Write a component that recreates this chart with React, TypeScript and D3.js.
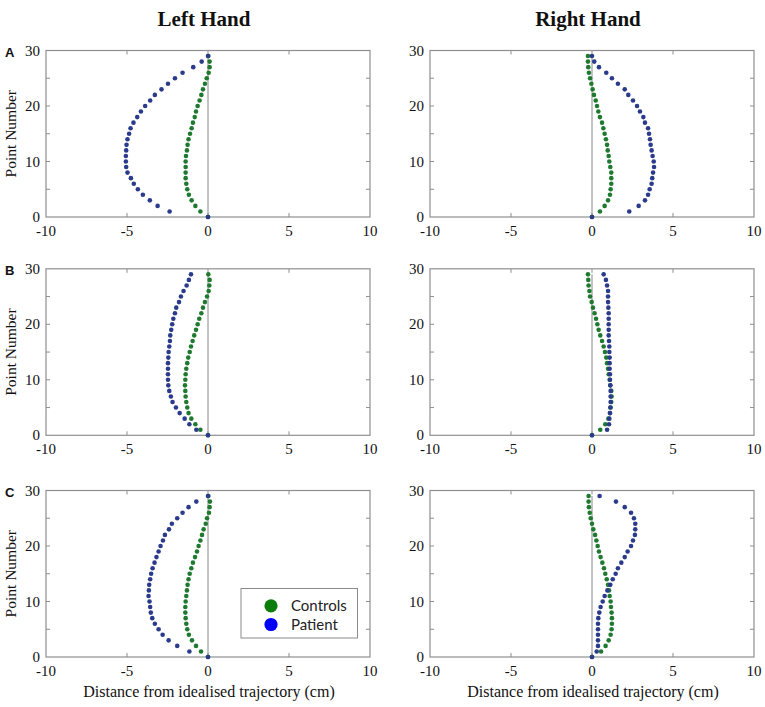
import React from "react";
import * as d3 from "d3";

// Point numbers 0..29 (index = point number)
const pointNumbers = d3.range(0, 30);
const xTicks = [-10, -5, 0, 5, 10];
const yTicks = [0, 10, 20, 30];
const yMinorTicks = [5, 10, 15, 20, 25];
const xInnerTicks = [-5, 0, 5];
const rowLabels = ["A", "B", "C"];
const columnTitles = ["Left Hand", "Right Hand"];
const seriesNames = ["Controls", "Patient"];

// Row A
const aLeftPatient = [0, -2.37, -3.11, -3.59, -4.02, -4.33, -4.58, -4.76, -4.97, -5.05, -5.07, -5.07, -5.05, -5.03, -4.97, -4.87, -4.78, -4.6, -4.37, -4.14, -3.88, -3.57, -3.28, -2.87, -2.47, -2.04, -1.57, -0.91, -0.39, 0];
const aLeftControls = [0, -0.47, -0.78, -1.01, -1.18, -1.28, -1.34, -1.38, -1.38, -1.38, -1.38, -1.36, -1.3, -1.26, -1.2, -1.11, -1.01, -0.93, -0.82, -0.74, -0.64, -0.52, -0.41, -0.31, -0.19, -0.08, 0.04, 0.1, 0.1, 0.02];
const aRightPatient = [0, 2.3, 2.88, 3.27, 3.46, 3.56, 3.68, 3.72, 3.77, 3.83, 3.81, 3.74, 3.68, 3.62, 3.58, 3.52, 3.46, 3.27, 3.17, 2.96, 2.78, 2.53, 2.24, 2.02, 1.6, 1.23, 0.88, 0.43, 0.14, 0];
const aRightControls = [0, 0.49, 0.78, 0.99, 1.11, 1.15, 1.19, 1.19, 1.19, 1.13, 1.07, 1.03, 0.97, 0.93, 0.86, 0.78, 0.7, 0.62, 0.49, 0.39, 0.31, 0.23, 0.12, 0.04, -0.04, -0.12, -0.19, -0.23, -0.25, -0.25];

// Row B
const bLeftPatient = [0, -0.72, -1.15, -1.44, -1.75, -1.98, -2.19, -2.29, -2.39, -2.45, -2.47, -2.47, -2.47, -2.47, -2.45, -2.43, -2.39, -2.35, -2.33, -2.27, -2.21, -2.14, -2.04, -1.96, -1.79, -1.67, -1.51, -1.32, -1.18, -1.05];
const bLeftControls = [0, -0.47, -0.78, -1.03, -1.2, -1.28, -1.34, -1.38, -1.4, -1.42, -1.4, -1.38, -1.34, -1.28, -1.22, -1.13, -1.05, -0.95, -0.85, -0.74, -0.64, -0.54, -0.41, -0.31, -0.19, -0.06, 0.04, 0.08, 0.1, 0.02];
const bRightPatient = [0, 0.93, 1.05, 1.07, 1.11, 1.13, 1.15, 1.15, 1.15, 1.13, 1.11, 1.11, 1.09, 1.09, 1.09, 1.07, 1.07, 1.05, 1.03, 1.03, 1.03, 1.03, 1.03, 1.01, 0.99, 0.99, 0.99, 0.93, 0.86, 0.72];
const bRightControls = [0, 0.51, 0.82, 1.01, 1.11, 1.15, 1.19, 1.21, 1.19, 1.13, 1.09, 1.03, 0.99, 0.93, 0.88, 0.8, 0.72, 0.62, 0.51, 0.41, 0.33, 0.25, 0.16, 0.06, -0.02, -0.12, -0.16, -0.21, -0.23, -0.25];

// Row C
const cLeftPatient = [0, -1.15, -1.9, -2.43, -2.8, -3.05, -3.28, -3.44, -3.53, -3.57, -3.61, -3.67, -3.65, -3.63, -3.57, -3.51, -3.42, -3.3, -3.18, -3.05, -2.93, -2.78, -2.66, -2.41, -2.23, -1.9, -1.57, -1.2, -0.72, 0];
const cLeftControls = [0, -0.43, -0.74, -0.99, -1.18, -1.28, -1.34, -1.38, -1.4, -1.4, -1.38, -1.34, -1.3, -1.26, -1.2, -1.13, -1.03, -0.93, -0.8, -0.68, -0.58, -0.47, -0.37, -0.27, -0.14, -0.06, 0.06, 0.1, 0.12, 0.02];
const cRightPatient = [0, 0.29, 0.37, 0.37, 0.37, 0.37, 0.37, 0.39, 0.45, 0.53, 0.66, 0.78, 0.95, 1.13, 1.28, 1.46, 1.6, 1.81, 2.02, 2.2, 2.41, 2.53, 2.65, 2.67, 2.67, 2.59, 2.41, 2.02, 1.48, 0.47];
const cRightControls = [0, 0.56, 0.84, 1.03, 1.15, 1.21, 1.23, 1.23, 1.21, 1.17, 1.15, 1.09, 1.05, 0.99, 0.91, 0.82, 0.74, 0.64, 0.53, 0.43, 0.35, 0.27, 0.19, 0.08, 0, -0.08, -0.14, -0.19, -0.21, -0.21];

const panelData = [
  [
    { controls: aLeftControls, patient: aLeftPatient },
    { controls: aRightControls, patient: aRightPatient },
  ],
  [
    { controls: bLeftControls, patient: bLeftPatient },
    { controls: bRightControls, patient: bRightPatient },
  ],
  [
    { controls: cLeftControls, patient: cLeftPatient },
    { controls: cRightControls, patient: cRightPatient },
  ],
];

const W = 765;
const H = 707;
const colX = [46, 430];
const plotW = 324;
const rowY = [50.5, 268.8, 490.5];
const plotH = 166.5;

const AXIS = "#8f8f8f";
const PATIENT = "#2b3b8c";
const CONTROL = "#1f7a30";
const SERIF = "Times New Roman, Liberation Serif, Tinos, DejaVu Serif, serif";

function Panel({ col, row }: { col: number; row: number }) {
  const x0 = colX[col];
  const y0 = rowY[row];
  const x = d3.scaleLinear().domain([-10, 10]).range([x0, x0 + plotW]);
  const y = d3.scaleLinear().domain([0, 30]).range([y0 + plotH, y0]);
  const d = panelData[row][col];
  const tick = 4;
  return (
    <g>
      <rect x={x0} y={y0} width={plotW} height={plotH} fill="white" stroke={AXIS} strokeWidth={1.2} />
      {xInnerTicks.map((t) => (
        <g key={"xt" + t}>
          <line x1={x(t)} x2={x(t)} y1={y0 + plotH} y2={y0 + plotH - tick} stroke={AXIS} />
          <line x1={x(t)} x2={x(t)} y1={y0} y2={y0 + tick} stroke={AXIS} />
        </g>
      ))}
      {yMinorTicks.map((t) => (
        <g key={"yt" + t}>
          <line x1={x0} x2={x0 + tick} y1={y(t)} y2={y(t)} stroke={AXIS} />
          <line x1={x0 + plotW} x2={x0 + plotW - tick} y1={y(t)} y2={y(t)} stroke={AXIS} />
        </g>
      ))}
      <line x1={x(0)} x2={x(0)} y1={y(0)} y2={y(29)} stroke="#888" strokeWidth={1} />
      {pointNumbers.map((p) => (
        <circle key={"c" + p} cx={x(d.controls[p])} cy={y(p)} r={2.3} fill={CONTROL} />
      ))}
      {pointNumbers.map((p) => (
        <circle key={"p" + p} cx={x(d.patient[p])} cy={y(p)} r={2.3} fill={PATIENT} />
      ))}
      {xTicks.map((t) => (
        <text key={"xl" + t} x={x(t)} y={y0 + plotH + 19} textAnchor="middle" style={{ fontFamily: SERIF }} fontSize={15} fill="#111">
          {t}
        </text>
      ))}
      {yTicks.map((t) => (
        <text key={"yl" + t} x={x0 - 6} y={y(t) + 5} textAnchor="end" style={{ fontFamily: SERIF }} fontSize={15} fill="#111">
          {t}
        </text>
      ))}
    </g>
  );
}

export default function App() {
  return (
    <svg width={W} height={H} style={{ position: "absolute", left: 0, top: 0, background: "white" }}>
      <rect x={0} y={0} width={W} height={H} fill="white" />
      {columnTitles.map((t, i) => (
        <text key={t} x={colX[i] + plotW / 2 - 4} y={26} textAnchor="middle" style={{ fontFamily: SERIF }} fontWeight="bold" fontSize={21} fill="#111">
          {t}
        </text>
      ))}
      {rowLabels.map((lab, r) => (
        <g key={lab}>
          <text x={5} y={rowY[r] + 6.5} style={{ fontFamily: "Liberation Sans, Arial, sans-serif" }} fontWeight="bold" fontSize={13} fill="#111">
            {lab}
          </text>
          <text
            transform={`translate(16,${rowY[r] + plotH / 2}) rotate(-90)`}
            textAnchor="middle"
            style={{ fontFamily: SERIF }}
            fontSize={15.5}
            fill="#111"
          >
            Point Number
          </text>
        </g>
      ))}
      {rowLabels.map((_, r) => [0, 1].map((c) => <Panel key={r + "-" + c} row={r} col={c} />))}
      {[0, 1].map((c) => (
        <text key={"xt" + c} x={colX[c] + plotW / 2 + 1} y={697} textAnchor="middle" style={{ fontFamily: SERIF }} fontSize={16} fill="#111">
          Distance from idealised trajectory (cm)
        </text>
      ))}
      <g>
        <rect x={241} y={588.5} width={116.5} height={49.5} fill="white" stroke="#8a8a8a" strokeWidth={1} />
        {seriesNames.map((s, i) => (
          <g key={s}>
            <circle cx={271} cy={605.8 + i * 18.7} r={6.6} fill={i === 0 ? "#0a7d0a" : "#0000ff"} />
            <text x={291} y={611 + i * 18.7} style={{ fontFamily: "Lato, Open Sans, sans-serif" }} fontSize={15} fill="#222">
              {s}
            </text>
          </g>
        ))}
      </g>
    </svg>
  );
}
